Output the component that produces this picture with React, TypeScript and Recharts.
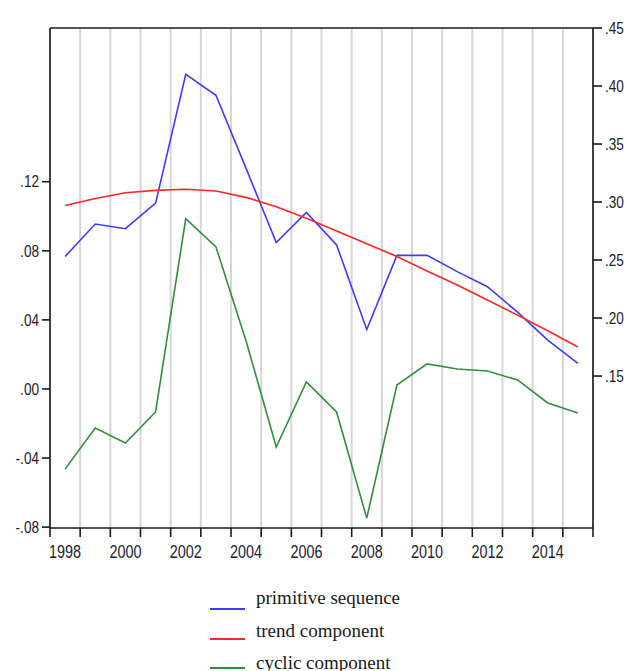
import { LineChart, Line, XAxis, YAxis, CartesianGrid, Legend, ReferenceLine } from "recharts";

const years = [1998, 1999, 2000, 2001, 2002, 2003, 2004, 2005, 2006, 2007, 2008, 2009, 2010, 2011, 2012, 2013, 2014, 2015];
const primitive = [0.253, 0.281, 0.277, 0.299, 0.41, 0.392, 0.329, 0.265, 0.291, 0.263, 0.19, 0.254, 0.254, 0.24, 0.227, 0.205, 0.181, 0.161];
const trend = [0.297, 0.303, 0.308, 0.31, 0.311, 0.3095, 0.304, 0.296, 0.286, 0.275, 0.264, 0.253, 0.2405, 0.2285, 0.2155, 0.2025, 0.189, 0.175];
const cyclic = [-0.0464, -0.0226, -0.0313, -0.0133, 0.0986, 0.0823, 0.0278, -0.0336, 0.0041, -0.0133, -0.0748, 0.0023, 0.0145, 0.0116, 0.0104, 0.0052, -0.0081, -0.0139];

const yearLabels = [1998, 2000, 2002, 2004, 2006, 2008, 2010, 2012, 2014];
const leftTicks = [-0.08, -0.04, 0, 0.04, 0.08, 0.12];
const rightTicks = [0.15, 0.2, 0.25, 0.3, 0.35, 0.4, 0.45];

const series = [
  { key: "primitive", name: "primitive sequence", color: "#3c3cff", axis: "right" },
  { key: "trend", name: "trend component", color: "#ff2626", axis: "right" },
  { key: "cyclic", name: "cyclic component", color: "#2f8f3a", axis: "left" },
];

const data = years.map((year, i) => ({
  year,
  primitive: primitive[i],
  trend: trend[i],
  cyclic: cyclic[i],
}));

// year boundaries: ticks + grid sit between the years
const boundaries = [...years.map((y) => y - 0.5), years[years.length - 1] + 0.5];
const xDomain = [boundaries[0], boundaries[boundaries.length - 1]];

const fmt = (v: number) => v.toFixed(2).replace(/^(-?)0\./, "$1.");

const FONT = "'Liberation Sans', Arial, sans-serif";
const INK = "#22222e";

// narrow labels, like the EViews output
const YearTick = (props: any) => {
  const { x, y, payload } = props;
  return (
    <g transform={`translate(${x},${y})`}>
      <text transform="scale(0.8,1)" textAnchor="middle" dy="0.72em" fontFamily={FONT} fontSize={18} fill={INK}>
        {payload.value}
      </text>
    </g>
  );
};

const ValueTick = (props: any) => {
  const { x, y, payload, textAnchor } = props;
  return (
    <g transform={`translate(${x},${y})`}>
      <text transform="scale(0.85,1)" textAnchor={textAnchor} dy="0.36em" fontFamily={FONT} fontSize={16} fill={INK}>
        {fmt(payload.value)}
      </text>
    </g>
  );
};

const renderLegend = () => (
  <div style={{ position: "relative", width: 260, height: 95 }}>
    {series.map((s, i) => (
      <div key={s.key}>
        <div style={{ position: "absolute", left: 0, top: 27 + i * 29.5, width: 35, height: 2, background: s.color }} />
        <span
          style={{
            position: "absolute",
            left: 46,
            top: 7 + i * 32.5,
            fontFamily: "'Liberation Serif', 'DejaVu Serif', serif",
            fontSize: 19,
            lineHeight: "19px",
            color: "#1a1a1a",
            whiteSpace: "nowrap",
          }}
        >
          {s.name}
        </span>
      </div>
    ))}
  </div>
);

export default function App() {
  return (
    <div style={{ position: "absolute", left: 0, top: 0, background: "#fff" }}>
      <LineChart width={626} height={671} data={data} margin={{ top: 28, right: 0, bottom: 103, left: 0 }}>
        <CartesianGrid xAxisId="a" yAxisId="left" horizontal={false} stroke="#d6d6d6" strokeWidth={2} />
        <XAxis
          xAxisId="a"
          type="number"
          dataKey="year"
          domain={xDomain}
          allowDataOverflow
          ticks={boundaries}
          interval={0}
          tickFormatter={() => ""}
          tickSize={9}
          height={10}
          axisLine={{ stroke: "#1a1a1a", strokeWidth: 1.6 }}
          tickLine={{ stroke: "#1a1a1a", strokeWidth: 1.6 }}
        />
        <XAxis
          xAxisId="b"
          type="number"
          dataKey="year"
          domain={xDomain}
          allowDataOverflow
          ticks={yearLabels}
          interval={0}
          axisLine={false}
          tickLine={false}
          tickSize={0}
          tickMargin={7}
          height={30}
          tick={<YearTick />}
        />
        <YAxis
          yAxisId="left"
          orientation="left"
          width={50}
          domain={[-0.0805, 0.209]}
          allowDataOverflow
          ticks={leftTicks}
          interval={0}
          tickSize={8}
          tickMargin={3}
          tick={<ValueTick />}
          axisLine={{ stroke: "#1a1a1a", strokeWidth: 1.6 }}
          tickLine={{ stroke: "#1a1a1a", strokeWidth: 1.6 }}
        />
        <YAxis
          yAxisId="right"
          orientation="right"
          width={33}
          domain={[0.019, 0.45]}
          allowDataOverflow
          ticks={rightTicks}
          interval={0}
          tickSize={9}
          tickMargin={3}
          tick={<ValueTick />}
          axisLine={{ stroke: "#1a1a1a", strokeWidth: 1.6 }}
          tickLine={{ stroke: "#1a1a1a", strokeWidth: 1.6 }}
        />
        <ReferenceLine xAxisId="a" yAxisId="right" y={0.45} stroke="#1a1a1a" strokeWidth={1.6} />
        {series.map((s) => (
          <Line
            key={s.key}
            xAxisId="a"
            yAxisId={s.axis}
            type="linear"
            dataKey={s.key}
            name={s.name}
            stroke={s.color}
            strokeWidth={1.6}
            dot={false}
            isAnimationActive={false}
          />
        ))}
        <Legend
          layout="vertical"
          align="center"
          verticalAlign="middle"
          content={renderLegend}
          wrapperStyle={{ position: "absolute", left: 210, top: 581, width: 260, height: 90 }}
        />
      </LineChart>
    </div>
  );
}
